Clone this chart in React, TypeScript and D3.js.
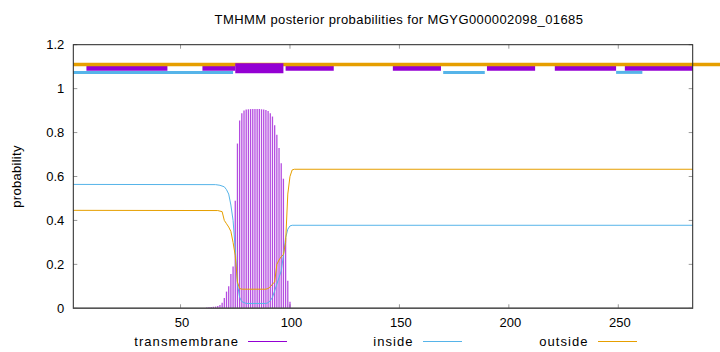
import React from 'react';
import * as d3 from 'd3';

// plot data
const title = 'TMHMM posterior probabilities for MGYG000002098_01685';
const seqStart = 1;
const seqEnd = 284;
const xTicks = [50, 100, 150, 200, 250];
const yTicks = [0, 0.2, 0.4, 0.6, 0.8, 1, 1.2];

// transmembrane posterior (impulses), residue -> prob
const tmResidues = [62, 63, 64, 65, 66, 67, 68, 69, 70, 71, 72, 73, 74, 75, 76, 77, 78, 79, 80, 81, 82, 83, 84, 85, 86, 87, 88, 89, 90, 91, 92, 93, 94, 95, 96, 97, 98, 99, 100];
const tmValues = [0.004, 0.005, 0.006, 0.007, 0.008, 0.01, 0.015, 0.025, 0.047, 0.076, 0.1, 0.156, 0.19, 0.49, 0.75, 0.855, 0.888, 0.9, 0.905, 0.906, 0.907, 0.907, 0.907, 0.907, 0.907, 0.906, 0.905, 0.903, 0.898, 0.888, 0.873, 0.833, 0.79, 0.73, 0.66, 0.59, 0.32, 0.125, 0.03];

// inside curve
const inResidues = [1, 66, 68, 70, 71, 72, 73, 74, 75, 76, 77, 78, 80, 89, 90, 91, 92, 93, 94, 95, 96, 97, 98, 99, 100, 101, 284];
const inValues = [0.564, 0.563, 0.56, 0.553, 0.54, 0.52, 0.47, 0.4, 0.27, 0.11, 0.05, 0.03, 0.022, 0.022, 0.025, 0.035, 0.05, 0.08, 0.11, 0.14, 0.17, 0.24, 0.32, 0.36, 0.375, 0.378, 0.378];

// outside curve
const outResidues = [1, 67, 69, 70, 71, 72, 73, 74, 75, 76, 77, 78, 89, 90, 91, 92, 93, 94, 95, 96, 97, 98, 99, 100, 101, 102, 284];
const outValues = [0.446, 0.445, 0.44, 0.4, 0.385, 0.37, 0.35, 0.3, 0.24, 0.12, 0.09, 0.087, 0.087, 0.09, 0.098, 0.11, 0.12, 0.2, 0.22, 0.235, 0.245, 0.3, 0.52, 0.6, 0.63, 0.633, 0.633];

// top annotation bars: [from, to]
const outsideBars = [[1, 297]];
const insideBars = [[1, 74], [170, 189], [249, 261]];
const tmThinBars = [[7, 44], [60, 75], [98, 120], [147, 169], [190, 212], [221, 249], [253, 284]];
const tmBigBars = [[75, 97]];

const legendLabels = ['transmembrane', 'inside', 'outside'];

const W = 720;
const H = 352;
const m = { left: 73.3, right: 692.7, top: 44.7, bottom: 308.3 };

const PURPLE = '#9400d3';
const CYAN = '#56b4e9';
const ORANGE = '#e69f00';
const FONT = "'Liberation Sans', Arial, sans-serif";

export default function App() {
  const x = d3.scaleLinear().domain([seqStart, seqEnd]).range([m.left, m.right]);
  const y = d3.scaleLinear().domain([0, 1.2]).range([m.bottom, m.top]);

  const line = d3.line<[number, number]>().x(d => x(d[0])).y(d => y(d[1]));
  const inPath = line(inResidues.map((r, i) => [r, inValues[i]]));
  const outPath = line(outResidues.map((r, i) => [r, outValues[i]]));

  const bar = (segs: number[][], v: number, color: string, w: number, key: string) =>
    segs.map((s, i) => (
      <line key={key + i} x1={x(s[0])} x2={x(s[1])} y1={y(v)} y2={y(v)} stroke={color} strokeWidth={w} />
    ));

  // legend slots (text right edge, sample start)
  const colors = [PURPLE, CYAN, ORANGE];
  const slots = [[239, 248], [413.5, 423], [588.5, 598]];

  return (
    <div style={{ position: 'fixed', left: 0, top: 0 }}>
      <svg width={W} height={H} style={{ display: 'block', background: '#fff' }} fontFamily={FONT}>
        <text x={399} y={24} textAnchor="middle" fontSize={13} letterSpacing={0.4}>{title}</text>
        <text transform={`translate(21,${(m.top + m.bottom) / 2}) rotate(-90)`} textAnchor="middle" fontSize={13} letterSpacing={0.3}>probability</text>

        {/* ticks */}
        {yTicks.map(t => (
          <g key={'y' + t}>
            <line x1={m.left} x2={m.left + 4} y1={y(t)} y2={y(t)} stroke="#999" />
            <line x1={m.right} x2={m.right - 4} y1={y(t)} y2={y(t)} stroke="#999" />
            <text x={m.left - 9} y={y(t) + 4.5} textAnchor="end" fontSize={13}>{t}</text>
          </g>
        ))}
        {xTicks.map(t => (
          <g key={'x' + t}>
            <line x1={x(t)} x2={x(t)} y1={m.bottom} y2={m.bottom - 4} stroke="#999" />
            <line x1={x(t)} x2={x(t)} y1={m.top} y2={m.top + 4} stroke="#999" />
            <text x={x(t) + 1.5} y={327} textAnchor="middle" fontSize={13}>{t}</text>
          </g>
        ))}

        {/* impulses */}
        {tmResidues.map((r, i) => (
          <line key={'tm' + r} x1={x(r)} x2={x(r)} y1={y(0)} y2={y(tmValues[i])} stroke={PURPLE} strokeOpacity={0.7} strokeWidth={1.3} />
        ))}
        <path d={inPath || ''} fill="none" stroke={CYAN} strokeWidth={1} />
        <path d={outPath || ''} fill="none" stroke={ORANGE} strokeWidth={1} />

        {/* topology bars */}
        {bar(tmThinBars, 1.093, PURPLE, 5, 'p')}
        {bar(insideBars, 1.074, CYAN, 3, 'c')}
        {bar(outsideBars, 1.11, ORANGE, 3.5, 'o')}
        {bar(tmBigBars, 1.093, PURPLE, 10, 'b')}

        {/* frame */}
        <rect x={m.left} y={m.top} width={m.right - m.left} height={m.bottom - m.top} fill="none" stroke="#222" strokeWidth={1} />
        <line x1={m.left} x2={m.right} y1={m.bottom} y2={m.bottom} stroke="#555" strokeWidth={1.5} />

        {/* legend */}
        {legendLabels.map((l, i) => (
          <g key={l}>
            <text x={slots[i][0]} y={346} textAnchor="end" fontSize={13} letterSpacing={1.05}>{l}</text>
            <line x1={slots[i][1]} x2={slots[i][1] + 39} y1={341.5} y2={341.5} stroke={colors[i]} strokeWidth={1} />
          </g>
        ))}
      </svg>
    </div>
  );
}
